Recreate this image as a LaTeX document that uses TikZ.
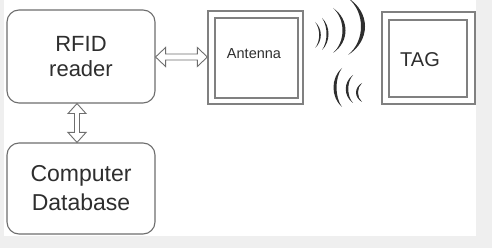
\documentclass[tikz,border=0pt]{standalone}
\usepackage{fontspec}
\setmainfont{Liberation Sans}
\usetikzlibrary{calc}
\definecolor{pagegray}{HTML}{EFEFEF}
\definecolor{edgegray}{HTML}{6E6E6E}
\definecolor{framegray}{HTML}{808080}
\definecolor{inkgray}{HTML}{2E2E2E}
\tikzset{
  roundbox/.style={draw=edgegray, line width=1.1pt, rounded corners=12pt,
    align=center, text=inkgray, inner sep=0pt},
  frameouter/.style={draw=framegray, line width=1.3pt, inner sep=0pt},
  frameinner/.style={draw=framegray, line width=1.3pt, inner sep=0pt},
  hollowarrow/.style={draw=edgegray, line width=0.9pt, fill=white, line join=miter},
  wave/.style={fill=inkgray},
}
% crescent-shaped radio wave: x, y top, y bottom, bulge, thickness
\newcommand\wavearc[5]{%
  \pgfmathsetmacro\wvouter{4/3*(#4+#5/2)}%
  \pgfmathsetmacro\wvinner{4/3*(#4-#5/2)}%
  \pgfmathsetmacro\wvq{(#3-#2)/4}%
  \fill[wave] (#1,#2) .. controls ({#1+\wvouter},{#2+\wvq}) and ({#1+\wvouter},{#3-\wvq}) .. (#1,#3)
    .. controls ({#1+\wvinner},{#3-\wvq}) and ({#1+\wvinner},{#2+\wvq}) .. cycle;}
\begin{document}
\begin{tikzpicture}[x=1pt,y=-1pt]
  % page
  \fill[pagegray] (0,0) rectangle (492,248);
  \fill[white] (4,0) rectangle (476,236);
  \useasboundingbox (0,0) rectangle (492,248);

  % reader and database
  \node[roundbox, minimum width=148pt, minimum height=93pt,
        font=\fontsize{22}{25}\selectfont] (reader) at (81,56.5) {RFID\\reader};
  \node[roundbox, minimum width=148pt, minimum height=91pt,
        font=\fontsize{23}{29}\selectfont] (db) at (81,188.5) {Computer\\Database};

  % antenna
  \node[frameouter, minimum width=95pt, minimum height=93pt] (antout) at (255.5,57.5) {};
  \node[frameinner, minimum width=83pt, minimum height=80pt] (antin) at (256.5,58) {};
  \node[text=inkgray, font=\fontsize{14.5}{16}\selectfont, inner sep=0pt] (antlabel) at (254,53.5) {Antenna};

  % tag
  \node[frameouter, minimum width=93pt, minimum height=92pt] (tagout) at (428.5,58) {};
  \node[frameinner, minimum width=78pt, minimum height=77pt] (tagin) at (428,58.5) {};
  \node[text=inkgray, font=\fontsize{20}{22}\selectfont, inner sep=0pt] (taglabel) at (420,59.5) {TAG};

  % reader <-> antenna
  \coordinate (hl) at (reader.east |- 0,57);
  \coordinate (hr) at (antout.west |- 0,57);
  \draw[hollowarrow] (hl) -- ++(10,-9.5) -- ++(0,6.5) -- ($(hr)+(-10,-3)$) -- ++(0,-6.5)
    -- (hr) -- ++(-10,9.5) -- ++(0,-6.5) -- ($(hl)+(10,3)$) -- ++(0,6.5) -- cycle;

  % reader <-> database
  \coordinate (vt) at ($(reader.south)+(-4,0)$);
  \coordinate (vb) at ($(db.north)+(-4,0)$);
  \draw[hollowarrow] (vt) -- ++(9,10) -- ++(-6.5,0) -- ($(vb)+(2.5,-10)$) -- ++(6.5,0)
    -- (vb) -- ++(-9,-10) -- ++(6.5,0) -- ($(vt)+(-2.5,10)$) -- ++(-6.5,0) -- cycle;

  % outgoing waves
  \wavearc{315}{22}{48}{5}{1.6}
  \wavearc{322}{18}{50}{5.5}{2}
  \wavearc{333}{8}{53}{11}{3}
  \wavearc{348}{-2}{55}{15}{4}

  % returning waves
  \wavearc{342}{68}{107}{-7}{3}
  \wavearc{353}{75}{103}{-6}{2.5}
  \wavearc{362}{83}{102}{-5}{2}
\end{tikzpicture}
\end{document}
